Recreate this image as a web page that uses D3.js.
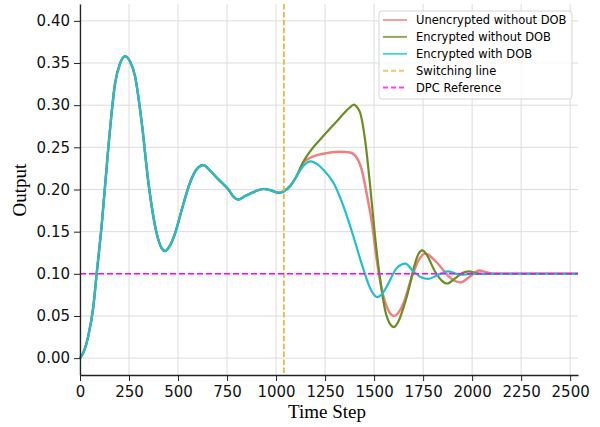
<!DOCTYPE html>
<html>
<head>
<meta charset="utf-8">
<script src="https://cdn.jsdelivr.net/npm/d3@7"></script>
<style>
  body { margin: 0; background: #fff; }
  svg { display: block; }
  .axis path, .axis line { stroke: #222; }
  .axis text { font-family: "DejaVu Sans", sans-serif; font-size: 15px; fill: #111; }
  .grid line { stroke: #dcdcdc; stroke-width: 1; }
</style>
</head>
<body>
<div id="chart"></div>
<script>
// values: [time step, output]
var sharedPart = [
    [0, 0.000], [20, 0.008], [42, 0.026], [68, 0.061], [85, 0.100], [110, 0.156],
    [145, 0.251], [179, 0.326], [205, 0.350], [230, 0.358], [255, 0.352], [281, 0.334],
    [315, 0.279], [349, 0.208], [391, 0.148], [415, 0.131], [434, 0.127], [455, 0.132],
    [485, 0.148], [519, 0.176], [561, 0.208], [595, 0.224], [629, 0.229], [665, 0.222],
    [706, 0.212], [757, 0.200], [785, 0.191], [808, 0.188], [840, 0.192], [876, 0.196],
    [935, 0.2006], [975, 0.199], [1012, 0.196], [1040, 0.198], [1075, 0.205], [1105, 0.216]
];

var unencryptedNoDob = [
    [1139, 0.232], [1173, 0.2374], [1241, 0.2425], [1327, 0.2449], [1378, 0.244], [1408, 0.239],
    [1437, 0.2235], [1463, 0.194], [1488, 0.162], [1514, 0.116], [1539, 0.082], [1570, 0.058],
    [1602, 0.050], [1630, 0.056], [1650, 0.065], [1684, 0.090], [1720, 0.113], [1762, 0.124],
    [1800, 0.118], [1837, 0.109], [1880, 0.097], [1939, 0.090], [1990, 0.097], [2036, 0.104],
    [2070, 0.102], [2109, 0.100], [2540, 0.100]
];

var encryptedNoDob = [
    [1139, 0.233], [1173, 0.245], [1224, 0.259], [1310, 0.281], [1370, 0.296], [1398, 0.3007],
    [1415, 0.297], [1429, 0.291], [1454, 0.259], [1480, 0.204], [1505, 0.144], [1531, 0.093],
    [1556, 0.057], [1580, 0.041], [1602, 0.0368], [1625, 0.044], [1650, 0.060], [1675, 0.080],
    [1700, 0.105], [1725, 0.123], [1746, 0.1277], [1770, 0.122], [1810, 0.103], [1845, 0.092],
    [1872, 0.0885], [1910, 0.094], [1950, 0.101], [1982, 0.103], [2020, 0.101], [2058, 0.0997],
    [2100, 0.100], [2540, 0.100]
];

var encryptedDob = [
    [1139, 0.228], [1177, 0.2334], [1210, 0.230], [1241, 0.2235], [1293, 0.208], [1344, 0.180],
    [1395, 0.144], [1446, 0.105], [1480, 0.083], [1517, 0.0724], [1540, 0.076], [1565, 0.085],
    [1616, 0.107], [1660, 0.112], [1700, 0.103], [1740, 0.096], [1777, 0.094], [1820, 0.098],
    [1876, 0.103], [1920, 0.100], [1960, 0.099], [2000, 0.100], [2540, 0.100]
];

var seriesNames = ["Unencrypted without DOB", "Encrypted without DOB", "Encrypted with DOB"];
var seriesColors = ["#f08080", "#6b8e23", "#1fbfcf"];
var switchingStep = 1040;
var dpcReference = 0.1;
var xTicks = [0, 250, 500, 750, 1000, 1250, 1500, 1750, 2000, 2250, 2500];
var yTicks = [0.00, 0.05, 0.10, 0.15, 0.20, 0.25, 0.30, 0.35, 0.40];

var svgWidth = 600, svgHeight = 427;
var margin = { top: 4, right: 22, bottom: 52, left: 80 },
    width = svgWidth - margin.left - margin.right,
    height = svgHeight - margin.top - margin.bottom;

var svg = d3.select("#chart").append("svg")
    .attr("width", svgWidth)
    .attr("height", svgHeight);

var g = svg.append("g")
    .attr("transform", "translate(" + margin.left + "," + margin.top + ")");

var x = d3.scaleLinear().domain([0, 2540]).range([0, width]);
var y = d3.scaleLinear().domain([-0.02, 0.42]).range([height, 0]);

// grid
g.append("g").attr("class", "grid")
    .selectAll("line").data(xTicks).enter().append("line")
    .attr("x1", d => x(d)).attr("x2", d => x(d))
    .attr("y1", 0).attr("y2", height);
g.append("g").attr("class", "grid")
    .selectAll("line").data(yTicks).enter().append("line")
    .attr("x1", 0).attr("x2", width)
    .attr("y1", d => y(d)).attr("y2", d => y(d));

var line = d3.line()
    .x(d => x(d[0]))
    .y(d => y(d[1]))
    .curve(d3.curveMonotoneX);

var allSeries = [
    sharedPart.concat(unencryptedNoDob),
    sharedPart.concat(encryptedNoDob),
    sharedPart.concat(encryptedDob)
];

g.selectAll(".series")
    .data(allSeries)
    .enter().append("path")
    .attr("class", "series")
    .attr("d", line)
    .attr("fill", "none")
    .attr("stroke", (d, i) => seriesColors[i])
    .attr("stroke-width", (d, i) => i == 0 ? 2.5 : 2.2)
    .attr("stroke-linejoin", "round");

// switching line
g.append("line")
    .attr("x1", x(switchingStep)).attr("x2", x(switchingStep))
    .attr("y1", 0).attr("y2", height)
    .attr("stroke", "#e8b444")
    .attr("stroke-width", 1.7)
    .attr("stroke-dasharray", "5.5,2.4");

// DPC reference
g.append("line")
    .attr("x1", 0).attr("x2", width)
    .attr("y1", y(dpcReference)).attr("y2", y(dpcReference))
    .attr("stroke", "#ff00ff")
    .attr("stroke-width", 1.6)
    .attr("stroke-dasharray", "6,3");

// axes
g.append("g")
    .attr("class", "axis")
    .attr("transform", "translate(0," + height + ")")
    .call(d3.axisBottom(x).tickValues(xTicks).tickSize(6).tickPadding(5)
        .tickFormat(d3.format("d")).tickSizeOuter(0));

g.append("g")
    .attr("class", "axis")
    .call(d3.axisLeft(y).tickValues(yTicks).tickSize(6).tickPadding(4)
        .tickFormat(d3.format(".2f")).tickSizeOuter(0));

g.selectAll(".axis .domain").attr("stroke-width", 1.3);

svg.append("text")
    .attr("x", margin.left + width / 2 - 2)
    .attr("y", 418)
    .attr("text-anchor", "middle")
    .style("font-family", "'Liberation Serif', 'Times New Roman', serif")
    .style("font-size", "19px")
    .text("Time Step");

svg.append("text")
    .attr("transform", "translate(26,190) rotate(-90)")
    .attr("text-anchor", "middle")
    .style("font-family", "'Liberation Serif', 'Times New Roman', serif")
    .style("font-size", "19px")
    .text("Output");

// legend
var legendItems = [
    { name: seriesNames[0], color: seriesColors[0], dash: null },
    { name: seriesNames[1], color: seriesColors[1], dash: null },
    { name: seriesNames[2], color: seriesColors[2], dash: null },
    { name: "Switching line", color: "#e8b444", dash: "5,3" },
    { name: "DPC Reference", color: "#ff00ff", dash: "5,3" }
];

var legend = svg.append("g").attr("transform", "translate(379,11)");
legend.append("rect")
    .attr("width", 193).attr("height", 88)
    .attr("rx", 3)
    .attr("fill", "#fff").attr("fill-opacity", 0.8)
    .attr("stroke", "#d6d6d6");

var rows = legend.selectAll(".row")
    .data(legendItems)
    .enter().append("g")
    .attr("transform", (d, i) => "translate(0," + (9 + i * 16.9) + ")");

rows.append("line")
    .attr("x1", 4).attr("x2", 28)
    .attr("stroke", d => d.color)
    .attr("stroke-opacity", 0.75)
    .attr("stroke-width", 2)
    .attr("stroke-dasharray", d => d.dash);

rows.append("text")
    .attr("x", 37)
    .attr("dy", "0.36em")
    .style("font-family", "'DejaVu Sans', sans-serif")
    .style("font-size", "11.5px")
    .text(d => d.name);
</script>
</body>
</html>
